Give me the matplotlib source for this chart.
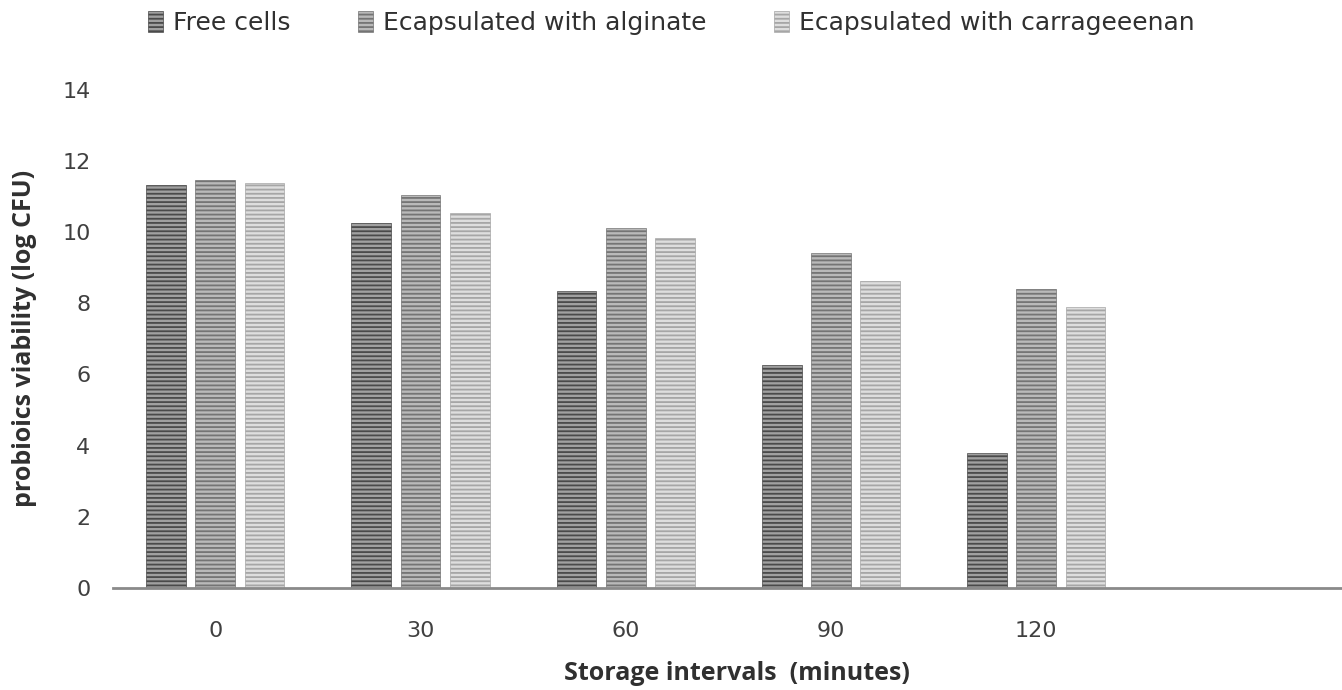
import numpy as np
import matplotlib.pyplot as plt

intervals = ['0', '30', '60', '90', '120', '']
series = ['Free cells', 'Ecapsulated with alginate', 'Ecapsulated with carrageeenan']
free_cells = [11.33, 10.25, 8.35, 6.27, 3.79]
alginate = [11.45, 11.04, 10.11, 9.42, 8.40]
carrageenan = [11.38, 10.53, 9.83, 8.62, 7.90]

faces = ['#a0a0a0', '#b9b9b9', '#dedede']
lines = ['#4a4a4a', '#747474', '#a6a6a6']

plt.rcParams['hatch.linewidth'] = 1.3

fig = plt.figure(figsize=(13.42, 6.9), dpi=100)
ax = fig.add_axes([0.084, 0.148, 0.916, 0.722])

x = np.arange(len(free_cells))
w = 0.194
pitch = 0.24
for i, vals in enumerate([free_cells, alginate, carrageenan]):
    ax.bar(x + (i - 1) * pitch, vals, w, color=faces[i], edgecolor=lines[i],
           hatch='----', linewidth=0.5, label=series[i])

ax.set_xlim(-0.5, 5.49)
ax.set_ylim(0, 14)
ax.set_yticks(range(0, 15, 2))
ax.set_xticks(range(len(intervals)))
ax.set_xticklabels(intervals)
ax.tick_params(length=0, labelsize=16, labelcolor='#404040')
ax.tick_params(axis='y', pad=16)
ax.tick_params(axis='x', pad=24)
for s in ['top', 'right', 'left']:
    ax.spines[s].set_visible(False)
ax.spines['bottom'].set_color('#8a8a8a')
ax.spines['bottom'].set_linewidth(2)

ax.set_ylabel('probioics viability (log CFU)', fontsize=18, fontweight='bold',
              family='Open Sans', color='#303030')
ax.yaxis.set_label_coords(-0.062, 0.5)
ax.set_xlabel('Storage intervals  (minutes)', fontsize=18, fontweight='bold',
              family='Open Sans', color='#303030')
ax.xaxis.set_label_coords(0.508, -0.147)

fig.legend(loc='center', bbox_to_anchor=(0.5, 0.967), ncol=3, frameon=False,
           handlelength=0.6, handleheight=0.9, handletextpad=0.4,
           columnspacing=2.7, prop={'size': 18},
           labelcolor='#303030')

plt.savefig('out.png')
